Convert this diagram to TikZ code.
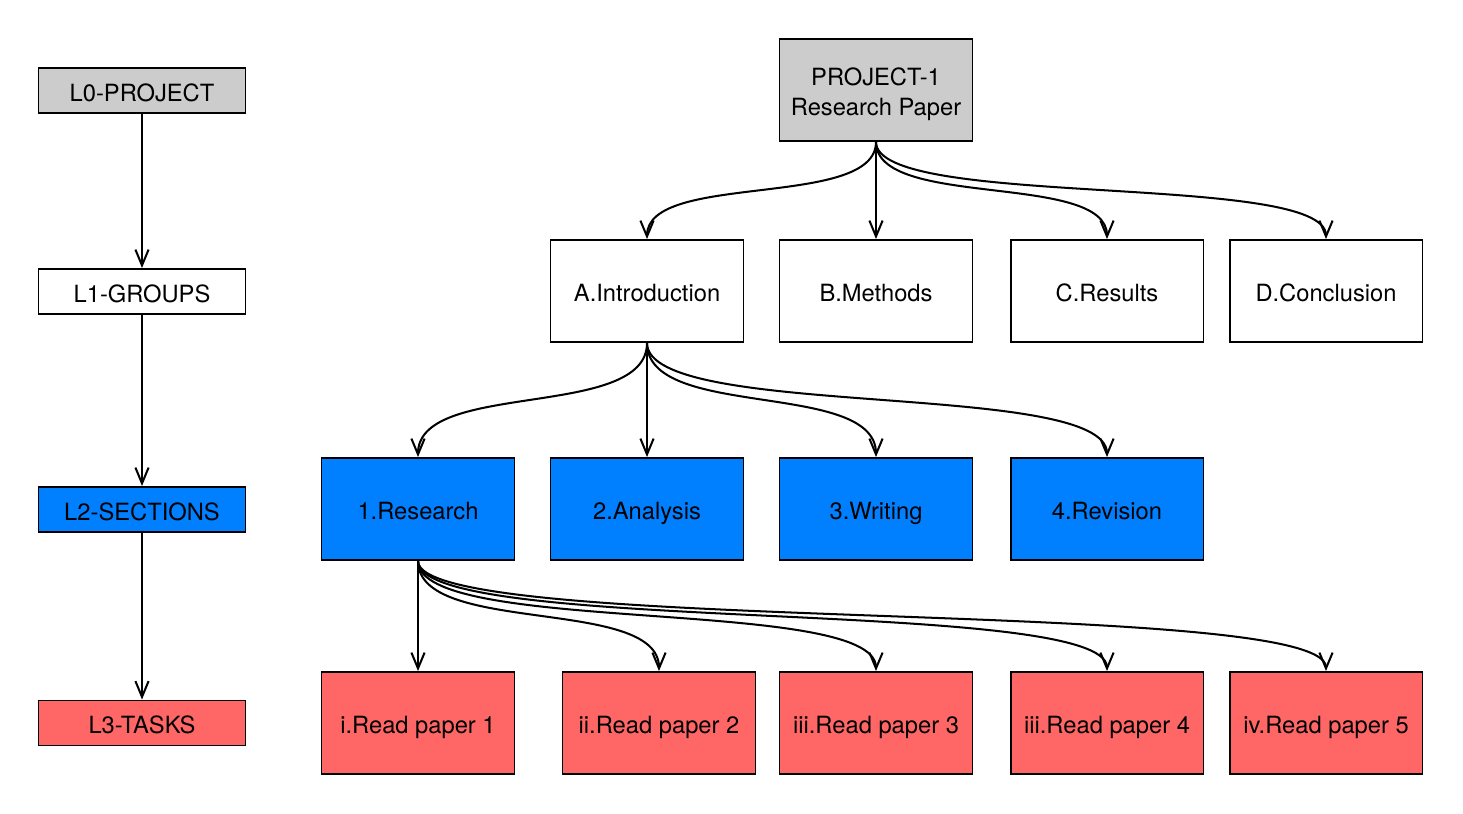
\documentclass[tikz,border=0pt]{standalone}
\usepackage{fontspec}
\setmainfont{TeX Gyre Heros}
\usepackage{tikz}
\usetikzlibrary{arrows.meta,positioning}
\definecolor{pgray}{HTML}{CCCCCC}
\definecolor{pblue}{HTML}{007FFF}
\definecolor{pred}{HTML}{FF6666}
\tikzset{
  box/.style={draw,line width=1.1pt,minimum width=3.86cm,minimum height=2.04cm,
              inner sep=2pt,align=center,text height=12pt,text depth=0pt,
              font=\fontsize{13.5}{17}\selectfont},
  legend/.style={box,minimum width=4.14cm,minimum height=0.9cm},
  link/.style={line width=1.15pt,-{Straight Barb[length=9pt,width=7.5pt,line width=1.15pt]}},
}

\begin{document}
\begin{tikzpicture}[x=0.02cm,y=-0.02cm]
  \useasboundingbox (0,0) rectangle (1463,814);
  % legend column
  \node[legend,fill=pgray] (lzero)  at (142,90.5) {L0-PROJECT};
  \node[legend]            (lone)   at (142,291.5) {L1-GROUPS};
  \node[legend,fill=pblue] (ltwo)   at (142,509.5) {L2-SECTIONS};
  \node[legend,fill=pred]  (lthree) at (142,723) {L3-TASKS};
  \draw[link] (lzero) -- (lone);
  \draw[link] (lone) -- (ltwo);
  \draw[link] (ltwo) -- (lthree);

  % project
  \node[box,fill=pgray,text height=,text depth=] (proj) at (876,90)
    {\rule{0pt}{15pt}PROJECT-1\\Research Paper};
  % groups
  \node[box] (intro)   at (647,291)  {A.Introduction};
  \node[box] (methods) at (876,291)  {B.Methods};
  \node[box] (results) at (1107,291) {C.Results};
  \node[box] (concl)   at (1326,291) {D.Conclusion};
  % sections
  \node[box,fill=pblue] (research) at (418,509)  {1.Research};
  \node[box,fill=pblue] (analysis) at (647,509)  {2.Analysis};
  \node[box,fill=pblue] (writing)  at (876,509)  {3.Writing};
  \node[box,fill=pblue] (revision) at (1107,509) {4.Revision};
  % tasks
  \node[box,fill=pred] (taskone)   at (418,723)  {i.Read paper 1};
  \node[box,fill=pred] (tasktwo)   at (659,723)  {ii.Read paper 2};
  \node[box,fill=pred] (taskthree) at (876,723)  {iii.Read paper 3};
  \node[box,fill=pred] (taskfour)  at (1107,723) {iii.Read paper 4};
  \node[box,fill=pred] (taskfive)  at (1326,723) {iv.Read paper 5};

  \foreach \c in {intro,methods,results,concl}
    \draw[link] (proj.south) .. controls +(0,-1.35cm) and +(0,1.35cm) .. (\c.north);
  \foreach \c in {research,analysis,writing,revision}
    \draw[link] (intro.south) .. controls +(0,-1.55cm) and +(0,1.55cm) .. (\c.north);
  \foreach \c in {taskone,tasktwo,taskthree,taskfour,taskfive}
    \draw[link] (research.south) .. controls +(0,-1.5cm) and +(0,1.5cm) .. (\c.north);
\end{tikzpicture}
\end{document}
